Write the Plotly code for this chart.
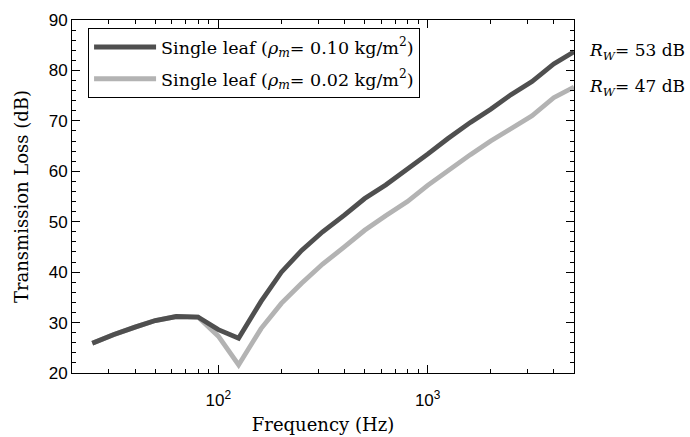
import plotly.graph_objects as go
import numpy as np

freq = [25, 31.5, 40, 50, 63, 80, 100, 125, 160, 200, 250, 315, 400, 500,
        630, 800, 1000, 1250, 1600, 2000, 2500, 3150, 4000, 5000]
tl_heavy = [25.9, 27.6, 29.1, 30.4, 31.2, 31.1, 28.6, 26.9, 34.2, 40.0, 44.3, 48.0,
            51.3, 54.6, 57.3, 60.4, 63.4, 66.5, 69.7, 72.3, 75.2, 77.8, 81.3, 83.7]
tl_light = [25.9, 27.6, 29.1, 30.4, 31.2, 31.1, 27.3, 21.6, 28.8, 33.8, 37.8, 41.6,
            45.0, 48.3, 51.2, 54.0, 57.2, 60.2, 63.3, 66.0, 68.5, 71.0, 74.6, 76.7]
names = ["Single leaf (<i>ρ</i><sub><i>m</i></sub>= 0.10 kg/m<sup>2</sup>)",
         "Single leaf (<i>ρ</i><sub><i>m</i></sub>= 0.02 kg/m<sup>2</sup>)"]
rw_labels = ["<i>R</i><sub><i>W</i></sub>= 53 dB", "<i>R</i><sub><i>W</i></sub>= 47 dB"]
x_major = [100, 1000]
x_major_text = ["10<sup>2</sup>", "10<sup>3</sup>"]
x_minor = [20, 30, 40, 50, 60, 70, 80, 90, 200, 300, 400, 500, 600, 700, 800, 900,
           2000, 3000, 4000, 5000]
y_major = [20, 30, 40, 50, 60, 70, 80, 90]

SERIF = "DejaVu Serif"
SANS = "Liberation Sans"

fig = go.Figure()
fig.add_trace(go.Scatter(x=freq, y=tl_light, mode="lines", name=names[1],
                         line=dict(color="#b3b3b3", width=4.8), legendrank=2,
                         legendgroup="b"))
fig.add_trace(go.Scatter(x=freq, y=tl_heavy, mode="lines", name=names[0],
                         line=dict(color="#4f4f4f", width=4.8), legendrank=1,
                         legendgroup="a"))

for lab, yv in zip(rw_labels, [tl_heavy[-1], tl_light[-1]]):
    fig.add_annotation(x=1.026, xref="paper", y=yv, yref="y", text=lab,
                       showarrow=False, xanchor="left", yanchor="middle",
                       font=dict(family=SERIF, size=17, color="black"))

fig.update_layout(
    width=690, height=437,
    margin=dict(l=72, r=116, t=20, b=64),
    plot_bgcolor="white", paper_bgcolor="white",
    showlegend=True,
    legend=dict(x=0.032, y=0.977, xanchor="left", yanchor="top",
                bordercolor="black", borderwidth=1, bgcolor="white",
                font=dict(family=SERIF, size=17.5, color="black"),
                itemwidth=62, tracegroupgap=6, traceorder="grouped"),
)
fig.update_xaxes(
    type="log", range=[np.log10(20), np.log10(5000)],
    tickvals=x_major, ticktext=x_major_text, automargin=False,
    ticks="inside", ticklen=8, tickwidth=1, tickcolor="black",
    showline=True, linecolor="black", linewidth=1, mirror="ticks",
    showgrid=False, zeroline=False, ticklabelstandoff=12,
    tickfont=dict(family=SANS, size=17, color="black"),
    minor=dict(tickvals=x_minor, ticks="inside", ticklen=4, tickcolor="black", showgrid=False),
    title=dict(text="Frequency (Hz)", font=dict(family=SERIF, size=18, color="black"), standoff=8),
)
fig.update_yaxes(
    range=[20, 90], tickvals=y_major, automargin=False,
    ticks="inside", ticklen=8, tickwidth=1, tickcolor="black",
    showline=True, linecolor="black", linewidth=1, mirror="ticks",
    showgrid=False, zeroline=False,
    tickfont=dict(family=SANS, size=17, color="black"),
    minor=dict(dtick=2, ticks="inside", ticklen=4, tickcolor="black", showgrid=False),
    title=dict(text="Transmission Loss (dB)", font=dict(family=SERIF, size=18, color="black"), standoff=15),
)
fig.write_html("out.html")
